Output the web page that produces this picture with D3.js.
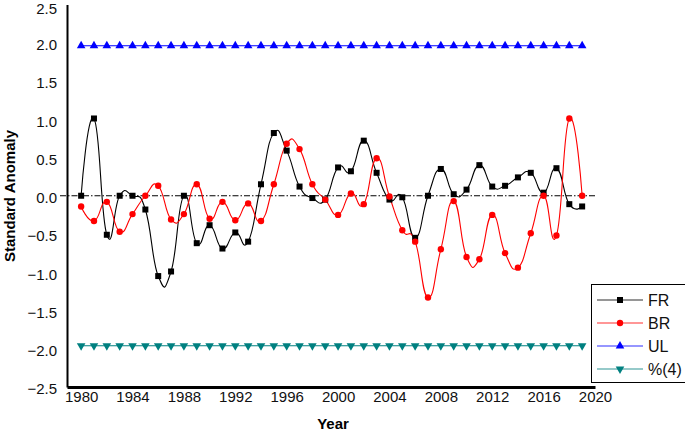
<!DOCTYPE html>
<html><head><meta charset="utf-8">
<script src="https://cdn.jsdelivr.net/npm/d3@7/dist/d3.min.js"></script>
<style>
html,body{margin:0;padding:0;background:#fff;}
svg{display:block;font-family:"Liberation Sans",Arial,sans-serif;}
</style></head>
<body><svg id="c" width="685" height="432"></svg>
<script>
const years = d3.range(1980, 2020);
const FR = [0.0, 1.01, -0.51, 0.0, 0.0, -0.18, -1.05, -0.99, 0.0, -0.62,
  -0.385, -0.69, -0.48, -0.60, 0.15, 0.82, 0.59, 0.12, -0.03, -0.05,
  0.37, 0.32, 0.72, 0.30, -0.05, -0.02, -0.55, 0.0, 0.35, 0.02,
  0.08, 0.40, 0.12, 0.13, 0.24, 0.30, 0.04, 0.36, -0.11, -0.14];
const BR = [-0.14, -0.33, -0.08, -0.47, -0.24, 0.0, 0.13, -0.31, -0.24, 0.15,
  -0.30, -0.08, -0.32, -0.10, -0.33, 0.15, 0.68, 0.61, 0.15, -0.05,
  -0.25, 0.03, -0.11, 0.49, -0.01, -0.45, -0.60, -1.33, -0.70, -0.07,
  -0.80, -0.83, -0.25, -0.75, -0.94, -0.49, 0.0, -0.52, 1.01, 0.0];
const UL = [1.96,1.96,1.96,1.96,1.96,1.96,1.96,1.96,1.96,1.96,
  1.96,1.96,1.96,1.96,1.96,1.96,1.96,1.96,1.96,1.96,
  1.96,1.96,1.96,1.96,1.96,1.96,1.96,1.96,1.96,1.96,
  1.96,1.96,1.96,1.96,1.96,1.96,1.96,1.96,1.96,1.96];
const LL = [-1.96,-1.96,-1.96,-1.96,-1.96,-1.96,-1.96,-1.96,-1.96,-1.96,
  -1.96,-1.96,-1.96,-1.96,-1.96,-1.96,-1.96,-1.96,-1.96,-1.96,
  -1.96,-1.96,-1.96,-1.96,-1.96,-1.96,-1.96,-1.96,-1.96,-1.96,
  -1.96,-1.96,-1.96,-1.96,-1.96,-1.96,-1.96,-1.96,-1.96,-1.96];
const xTicks = [1980,1984,1988,1992,1996,2000,2004,2008,2012,2016,2020];
const yTicks = [-2.5,-2.0,-1.5,-1.0,-0.5,0.0,0.5,1.0,1.5,2.0,2.5];
const seriesNames = ["FR","BR","UL","%(4)"];

const svg = d3.select("#c");
const x = d3.scaleLinear().domain([1978.9, 2020]).range([67, 595]);
const y = d3.scaleLinear().domain([-2.5, 2.5]).range([387, 4.5]);

// zero reference line (dash-dot)
svg.append("line").attr("x1", 60).attr("x2", x(2020)).attr("y1", y(0)).attr("y2", y(0))
  .attr("stroke", "#000").attr("stroke-width", 1).attr("stroke-dasharray", "6,2,1.5,2");

// axes
const gy = svg.append("g").attr("transform", "translate(67,0)")
  .call(d3.axisLeft(y).tickValues(yTicks).tickFormat(d3.format(".1f")).tickSizeInner(0).tickSizeOuter(0).tickPadding(10));
gy.select(".domain").attr("stroke", "#000").attr("stroke-width", 2);
gy.selectAll("text").attr("font-size", 15).attr("fill", "#111").attr("y", d => d === 2.5 ? 4 : 2)
  .style("font-family", "Liberation Sans, Arial, sans-serif");

const gx = svg.append("g").attr("transform", "translate(0,387)")
  .call(d3.axisBottom(x).tickValues(xTicks).tickFormat(d3.format("d")).tickSizeInner(0).tickSizeOuter(0).tickPadding(4));
gx.select(".domain").attr("stroke", "#000").attr("stroke-width", 3);
gx.selectAll("text").attr("font-size", 15).attr("fill", "#111").style("font-family", "Liberation Sans, Arial, sans-serif");

// axis titles
svg.append("text").attr("x", 333).attr("y", 429).attr("text-anchor", "middle")
  .attr("font-size", 15).attr("font-weight", "bold").text("Year");
svg.append("text").attr("transform", "translate(15,196) rotate(-90)").attr("text-anchor", "middle")
  .attr("font-size", 15).attr("font-weight", "bold").text("Standard Anomaly");

const curve = d3.curveCardinal.tension(-0.5);
const lineGen = d3.line().x((d, i) => x(years[i])).y(d => y(d));

function drawLine(vals, color, c) {
  svg.append("path").datum(vals).attr("fill", "none").attr("stroke", color).attr("stroke-width", 1.1)
    .attr("d", lineGen.curve(c)(vals));
}
drawLine(UL, "#0000ff", d3.curveLinear);
drawLine(LL, "#008080", d3.curveLinear);
drawLine(FR, "#000", curve);
drawLine(BR, "#ff0000", curve);

const tri = d3.symbol().type(d3.symbolTriangle).size(32);
svg.append("g").selectAll("path").data(UL).join("path")
  .attr("transform", (d, i) => `translate(${x(years[i])},${y(d)})`)
  .attr("d", tri).attr("fill", "#0000ff");
svg.append("g").selectAll("path").data(LL).join("path")
  .attr("transform", (d, i) => `translate(${x(years[i])},${y(d)}) rotate(180)`)
  .attr("d", tri).attr("fill", "#008080");
svg.append("g").selectAll("rect").data(FR).join("rect")
  .attr("x", (d, i) => x(years[i]) - 3).attr("y", d => y(d) - 3)
  .attr("width", 6).attr("height", 6).attr("fill", "#000");
svg.append("g").selectAll("circle").data(BR).join("circle")
  .attr("cx", (d, i) => x(years[i])).attr("cy", d => y(d)).attr("r", 3.2).attr("fill", "#ff0000");

// legend
const lg = svg.append("g");
lg.append("rect").attr("x", 591.5).attr("y", 284.5).attr("width", 110).attr("height", 98)
  .attr("fill", "#fff").attr("stroke", "#000").attr("stroke-width", 1);
const legColors = ["#000", "#ff0000", "#0000ff", "#008080"];
const legY = [300, 323, 346, 369];
seriesNames.forEach((name, k) => {
  const yy = legY[k], c = legColors[k];
  lg.append("line").attr("x1", 597).attr("x2", 643).attr("y1", yy).attr("y2", yy)
    .attr("stroke", c).attr("stroke-opacity", 0.55).attr("stroke-width", 1.3);
  if (k === 0) lg.append("rect").attr("x", 617).attr("y", yy - 3).attr("width", 6).attr("height", 6).attr("fill", c);
  if (k === 1) lg.append("circle").attr("cx", 620).attr("cy", yy).attr("r", 3.2).attr("fill", c);
  if (k === 2) lg.append("path").attr("transform", `translate(620,${yy})`).attr("d", tri).attr("fill", c);
  if (k === 3) lg.append("path").attr("transform", `translate(620,${yy}) rotate(180)`).attr("d", tri).attr("fill", c);
  lg.append("text").attr("x", 648).attr("y", yy + 6).attr("font-size", 16).attr("fill", "#111").text(name);
});
</script></body></html>
